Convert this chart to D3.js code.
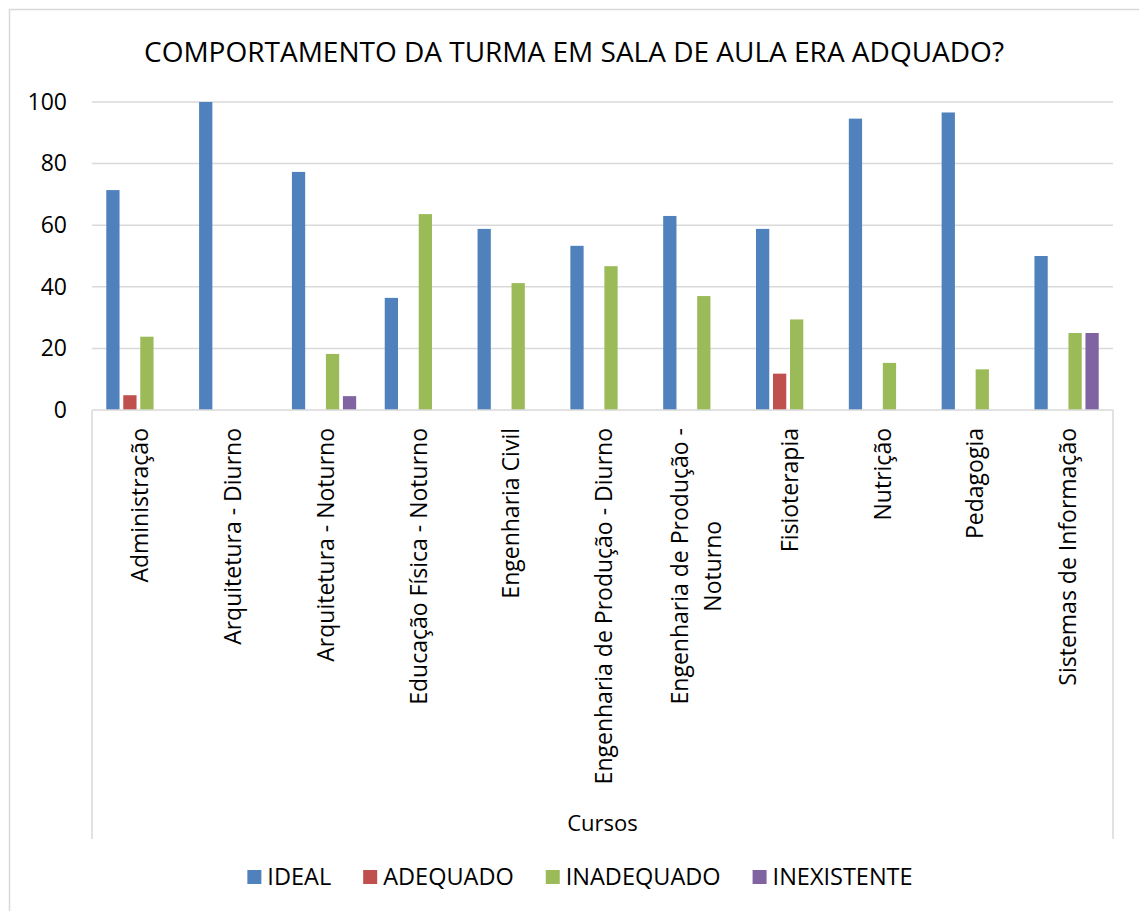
<!DOCTYPE html>
<html>
<head>
<meta charset="utf-8">
<script src="https://cdn.jsdelivr.net/npm/d3@7"></script>
<style>
  body { margin: 0; background: #fff; }
  svg text { font-family: "Open Sans", "Noto Sans", sans-serif; fill: #000; }
</style>
</head>
<body>
<div id="chart"></div>
<script>
const categories = [
    "Administração", "Arquitetura - Diurno", "Arquitetura - Noturno",
    "Educação Física - Noturno", "Engenharia Civil", "Engenharia de Produção - Diurno",
    "Engenharia de Produção - Noturno", "Fisioterapia", "Nutrição", "Pedagogia",
    "Sistemas de Informação"
];
const seriesNames = ["IDEAL", "ADEQUADO", "INADEQUADO", "INEXISTENTE"];
const ideal       = [71.4, 100, 77.3, 36.4, 58.8, 53.3, 63.0, 58.8, 94.6, 96.6, 50.0];
const adequado    = [4.8, 0, 0, 0, 0, 0, 0, 11.8, 0, 0, 0];
const inadequado  = [23.8, 0, 18.2, 63.6, 41.2, 46.7, 37.0, 29.4, 15.3, 13.2, 25.0];
const inexistente = [0, 0, 4.5, 0, 0, 0, 0, 0, 0, 0, 25.0];
const yTicks = [0, 20, 40, 60, 80, 100];
const colors = ["#4F81BD", "#C0504D", "#9BBB59", "#8064A2"];

const seriesValues = [ideal, adequado, inadequado, inexistente];
const rows = categories.map((c, i) => ({
    cat: c,
    values: seriesNames.map((s, k) => ({ key: s, value: seriesValues[k][i] }))
}));

const width = 1139, height = 911;
const margins = { top: 102, right: 26, bottom: 501, left: 92 };
const plotRight = width - margins.right;
const plotBottom = height - margins.bottom;
const labelSize = "23px";

const svg = d3.select("#chart").append("svg")
    .attr("width", width)
    .attr("height", height);

// chart border (cropped on right / bottom)
svg.append("rect")
    .attr("x", 9.5).attr("y", 9.5)
    .attr("width", 1160).attr("height", 940)
    .attr("fill", "none").attr("stroke", "#d9d9d9").attr("stroke-width", 1.5);

svg.append("text")
    .attr("x", 574).attr("y", 62)
    .attr("text-anchor", "middle")
    .style("font-size", "28px")
    .text("COMPORTAMENTO DA TURMA EM SALA DE AULA ERA ADQUADO?");

const x0 = d3.scaleBand().domain(categories).range([margins.left, plotRight]);
const x1 = d3.scaleBand().domain(seriesNames).range([0, x0.bandwidth()])
    .paddingInner(0.22).paddingOuter(0.84);
const y = d3.scaleLinear().domain([0, 100]).range([plotBottom, margins.top]);
const color = d3.scaleOrdinal().domain(seriesNames).range(colors);

// gridlines
svg.append("g").selectAll("line")
    .data(yTicks.filter(t => t > 0))
    .enter().append("line")
    .attr("x1", margins.left).attr("x2", plotRight)
    .attr("y1", d => y(d)).attr("y2", d => y(d))
    .attr("stroke", "#d9d9d9").attr("stroke-width", 1.5);

// y axis labels
const yAxis = d3.axisLeft(y).tickValues(yTicks).tickSize(0).tickPadding(25);
const yG = svg.append("g")
    .attr("transform", `translate(${margins.left},0)`)
    .call(yAxis);
yG.select(".domain").remove();
yG.selectAll("text")
    .style("font-size", "23px")
    .style("font-family", "'Open Sans', sans-serif")
    .attr("fill", "#000");

// bars
svg.append("g").selectAll("g")
    .data(rows)
    .enter().append("g")
    .attr("transform", d => `translate(${x0(d.cat)},0)`)
    .selectAll("rect")
    .data(d => d.values.filter(v => v.value > 0))
    .enter().append("rect")
    .attr("x", d => x1(d.key))
    .attr("width", x1.bandwidth())
    .attr("y", d => y(d.value))
    .attr("height", d => y(0) - y(d.value))
    .attr("fill", d => color(d.key));

// category axis frame
const axisBottom = 839;
svg.append("line")
    .attr("x1", margins.left).attr("x2", plotRight)
    .attr("y1", y(0)).attr("y2", y(0))
    .attr("stroke", "#d9d9d9").attr("stroke-width", 1.5);
[margins.left, plotRight].forEach(xv => {
    svg.append("line")
        .attr("x1", xv).attr("x2", xv)
        .attr("y1", y(0)).attr("y2", axisBottom)
        .attr("stroke", "#d9d9d9").attr("stroke-width", 1.5);
});

// rotated category labels, wrapped when too long
const labelTop = 428;
const maxLabelLen = 364;
const lineGap = 33;
categories.forEach(c => {
    const cx = x0(c) + x0.bandwidth() / 2;
    const g = svg.append("g")
        .attr("transform", `translate(${cx},${labelTop}) rotate(-90)`);
    const probe = g.append("text").style("font-size", labelSize).text(c);
    const len = probe.node().getComputedTextLength();
    probe.remove();
    let lines = [c];
    if (len > maxLabelLen) {
        const words = c.split(" ");
        lines = [];
        let cur = "";
        const test = g.append("text").style("font-size", labelSize);
        words.forEach(w => {
            const t = cur ? cur + " " + w : w;
            test.text(t);
            if (test.node().getComputedTextLength() > maxLabelLen && cur) {
                lines.push(cur);
                cur = w;
            } else {
                cur = t;
            }
        });
        lines.push(cur);
        test.remove();
    }
    if (lines.length === 1) {
        g.append("text")
            .attr("text-anchor", "end")
            .attr("dy", "0.42em")
            .style("font-size", labelSize)
            .text(c);
    } else {
        const first = g.append("text").style("font-size", labelSize).text(lines[0]);
        const l1 = first.node().getComputedTextLength();
        first.remove();
        lines.forEach((ln, i) => {
            g.append("text")
                .attr("text-anchor", "middle")
                .attr("x", -l1 / 2)
                .attr("y", (i - (lines.length - 1) / 2) * lineGap)
                .attr("dy", "0.42em")
                .style("font-size", labelSize)
                .text(ln);
        });
    }
});

svg.append("text")
    .attr("x", (margins.left + plotRight) / 2).attr("y", 831)
    .attr("text-anchor", "middle")
    .style("font-size", "22px")
    .text("Cursos");

// legend
const legend = svg.append("g");
let lx = 0;
seriesNames.forEach(s => {
    const item = legend.append("g").attr("transform", `translate(${lx},0)`);
    item.append("rect")
        .attr("x", 0).attr("y", -7)
        .attr("width", 14).attr("height", 14)
        .attr("fill", color(s));
    const t = item.append("text")
        .attr("x", 20).attr("dy", "0.36em")
        .style("font-size", "23.5px")
        .text(s);
    lx += 20 + t.node().getComputedTextLength() + 32;
});
const legendW = lx - 32;
legend.attr("transform", `translate(${580 - legendW / 2},877)`);
</script>
</body>
</html>
